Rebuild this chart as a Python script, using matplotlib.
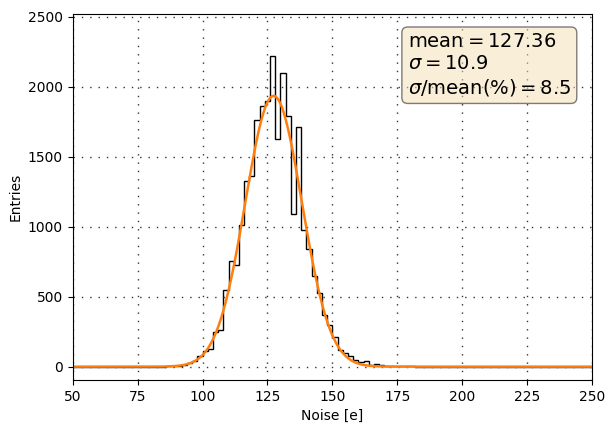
import numpy as np
import matplotlib
matplotlib.use("Agg")
import matplotlib.pyplot as plt

# histogram: bins of width 2 starting at bin_start
bin_start = 86.0
bin_width = 2.0
counts = [
    2, 3, 6, 12, 25, 43, 74,          # 86 .. 100
    115, 125, 250, 262,               # 100 .. 108
    550, 757, 729, 1014, 1325, 1360,  # 108 .. 120
    1765, 1865, 1900, 2220, 1630,     # 120 .. 130
    2100, 1790, 1090, 1714, 975,      # 130 .. 140
    843, 645, 526, 371, 300, 210,     # 140 .. 152
    121, 98, 74, 45, 31, 43, 15,      # 152 .. 166
    20, 14, 8, 5, 6, 3, 4, 2,         # 166 .. 182
]

# gaussian fit
fit_amp = 1935.0
fit_mean = 127.36
fit_sigma = 10.9
fit_ratio = 8.5

x_min, x_max = 50, 250


def main():
    n = len(counts)
    edges = bin_start + bin_width * np.arange(n + 1)
    # pad with empty bins over full range
    left = np.arange(x_min, bin_start, bin_width)
    right = np.arange(edges[-1] + bin_width, x_max + 0.1, bin_width)
    full_edges = np.concatenate([left, edges, right])
    full_counts = np.zeros(len(full_edges) - 1)
    full_counts[len(left):len(left) + n] = counts

    fig = plt.figure(figsize=(6.06, 4.25), dpi=100)
    ax = fig.add_axes([0.12, 0.106, 0.857, 0.861])

    ax.stairs(full_counts, full_edges, color="black", linewidth=1.0)

    xs = np.linspace(x_min, x_max, 800)
    ys = fit_amp * np.exp(-(xs - fit_mean) ** 2 / (2 * fit_sigma ** 2))
    ax.plot(xs, ys, color="#ff7f0e", linewidth=1.8)

    ax.set_xlim(x_min, x_max)
    ax.set_ylim(-95, 2520)
    ax.set_xticks(np.arange(50, 251, 25))
    ax.set_yticks(np.arange(0, 2501, 500))
    ax.grid(True, color="#333333", linestyle=(0, (1, 5)), linewidth=1.0)
    ax.set_xlabel("Noise [e]")
    ax.set_ylabel("Entries")

    textstr = "\n".join([
        r"$\mathrm{mean}=%.2f$" % fit_mean,
        r"$\sigma=%.1f$" % fit_sigma,
        r"$\sigma/\mathrm{mean(\%%)}=%.1f$" % fit_ratio,
    ])
    props = dict(boxstyle="round", facecolor="wheat", alpha=0.5)
    ax.text(0.645, 0.95, textstr, transform=ax.transAxes, fontsize=14,
            verticalalignment="top", bbox=props)

    fig.savefig("out.png", dpi=100)
    plt.close(fig)


if __name__ == "__main__":
    main()
